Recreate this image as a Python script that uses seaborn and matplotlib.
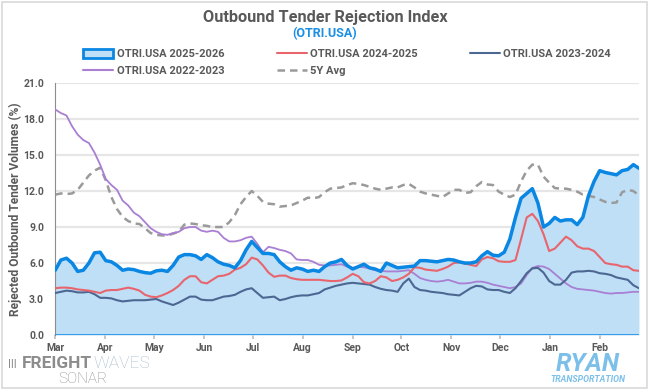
import matplotlib
matplotlib.use("Agg")
import matplotlib.pyplot as plt
from matplotlib.patches import Patch, Rectangle
from matplotlib.lines import Line2D
import matplotlib.dates as mdates
import seaborn as sns
import numpy as np
import pandas as pd

# ~half-weekly readings of the daily OTRI series, Mar 1 -> Feb 25
dates = pd.date_range("2025-03-01", "2026-02-25", periods=105)

otri_2025_26 = [
    5.4, 6.25, 6.4, 6.0, 5.3, 5.4, 6.0, 6.85, 6.9, 6.2,
    6.1, 5.8, 5.4, 5.5, 5.45, 5.3, 5.2, 5.15, 5.35, 5.4,
    5.3, 5.8, 6.5, 6.7, 6.7, 6.6, 6.3, 6.7, 6.45, 6.1,
    5.9, 5.8, 5.6, 6.2, 7.1, 7.8, 7.3, 6.8, 6.8, 6.7,
    6.1, 5.7, 5.4, 5.6, 5.5, 5.3, 5.4, 5.3, 5.7, 6.0,
    6.1, 6.3, 5.8, 5.5, 5.7, 5.9, 5.6, 5.5, 5.3, 6.0,
    5.8, 5.6, 5.65, 5.7, 5.75, 6.2, 6.2, 6.15, 6.1, 6.2,
    6.3, 6.25, 6.1, 6.0, 6.0, 6.1, 6.6, 6.95, 6.65, 6.6,
    6.9, 8.0, 9.8, 11.4, 11.8, 12.2, 11.0, 9.0, 9.3, 9.8,
    9.5, 9.6, 9.6, 9.2, 9.8, 11.6, 12.8, 13.7, 13.55, 13.45,
    13.35, 13.7, 13.8, 14.2, 13.9,
]
otri_2024_25 = [
    3.9, 3.95, 3.95, 3.9, 3.8, 3.75, 3.7, 3.6, 3.5, 3.7,
    3.75, 3.75, 3.85, 3.95, 3.85, 3.7, 3.35, 3.2, 3.15, 3.3,
    3.5, 3.75, 4.1, 4.6, 4.9, 4.9, 4.4, 4.3, 4.6, 4.9,
    4.95, 5.1, 5.45, 5.6, 5.9, 6.45, 6.3, 5.8, 5.2, 4.85,
    4.95, 4.95, 4.75, 4.65, 4.6, 4.6, 4.6, 4.6, 4.55, 4.5,
    4.5, 4.55, 4.8, 5.1, 4.9, 4.4, 4.3, 4.5, 4.9, 4.8,
    4.5, 4.6, 4.8, 5.1, 5.65, 5.6, 5.45, 5.4, 5.35, 5.5,
    5.7, 6.0, 6.05, 5.95, 5.85, 5.75, 6.3, 6.5, 6.4, 6.15,
    6.1, 6.1, 6.25, 8.0, 9.8, 10.1, 9.5, 8.4, 7.0, 7.2,
    7.7, 8.2, 7.9, 7.4, 7.2, 7.2, 7.0, 6.5, 6.0, 5.9,
    5.85, 5.7, 5.7, 5.4, 5.35,
]
otri_2023_24 = [
    3.5, 3.6, 3.7, 3.65, 3.55, 3.55, 3.6, 3.4, 3.1, 3.1,
    3.05, 2.9, 2.8, 2.85, 2.9, 2.9, 2.9, 2.95, 3.0, 2.8,
    2.65, 2.5, 2.7, 2.95, 3.2, 3.2, 2.95, 2.9, 2.9, 3.05,
    3.2, 3.25, 3.35, 3.6, 3.8, 3.9, 3.5, 3.1, 3.15, 3.2,
    2.9, 3.0, 3.15, 3.25, 3.3, 3.3, 3.4, 3.5, 3.8, 3.95,
    4.1, 4.2, 4.3, 4.35, 4.3, 4.25, 4.2, 4.0, 3.85, 3.75,
    3.7, 3.6, 4.3, 4.7, 4.0, 3.75, 3.7, 3.6, 3.55, 3.5,
    3.4, 3.35, 3.3, 3.6, 3.9, 4.1, 4.05, 3.8, 3.75, 3.75,
    3.6, 3.5, 3.9, 4.5, 5.15, 5.55, 5.6, 5.2, 4.5, 4.2,
    4.2, 4.6, 5.2, 5.3, 5.3, 5.35, 5.3, 5.15, 5.1, 5.0,
    4.8, 4.7, 4.6, 4.15, 3.9,
]
otri_2022_23 = [
    18.8, 18.5, 18.3, 17.4, 16.7, 16.25, 16.0, 15.2, 14.2, 13.0,
    12.5, 12.1, 11.2, 10.8, 10.2, 9.9, 9.4, 8.9, 8.6, 8.4,
    8.35, 8.5, 8.6, 8.9, 9.0, 9.0, 8.7, 8.6, 8.7, 8.6,
    8.1, 7.8, 7.8, 7.9, 8.1, 8.2, 7.6, 6.9, 7.35, 7.25,
    7.1, 7.0, 6.8, 6.3, 6.25, 6.25, 6.1, 5.85, 5.8, 5.8,
    5.85, 5.9, 5.7, 5.6, 5.7, 5.65, 5.55, 5.4, 5.35, 5.3,
    5.3, 5.3, 5.35, 5.4, 5.1, 4.75, 4.6, 4.5, 4.45, 4.5,
    4.6, 4.45, 4.3, 4.3, 4.35, 4.45, 4.45, 4.35, 4.2, 4.1,
    4.0, 3.9, 4.0, 4.3, 5.0, 5.6, 5.75, 5.7, 5.5, 5.1,
    4.7, 4.3, 4.0, 3.85, 3.8, 3.75, 3.7, 3.6, 3.5, 3.45,
    3.5, 3.5, 3.55, 3.6, 3.6,
]
avg_5y = [
    11.7, 11.8, 11.75, 11.8, 12.1, 12.7, 13.3, 13.7, 13.95, 12.9,
    11.5, 10.5, 9.85, 9.5, 9.3, 9.25, 8.9, 8.5, 8.35, 8.3,
    8.3, 8.45, 8.6, 9.2, 9.3, 9.25, 9.15, 9.1, 9.0, 9.0,
    9.0, 9.4, 10.0, 10.9, 11.5, 12.0, 11.6, 11.1, 10.95, 10.9,
    10.7, 10.75, 10.8, 11.0, 11.2, 11.45, 11.4, 11.5, 11.9, 12.2,
    12.25, 12.3, 12.5, 12.65, 12.6, 12.5, 12.35, 12.2, 12.1, 12.2,
    12.3, 12.3, 12.5, 12.6, 12.3, 11.95, 11.8, 11.7, 11.6, 11.5,
    11.8, 12.1, 12.1, 11.85, 11.9, 12.4, 12.75, 12.55, 12.5, 11.95,
    11.7, 11.5, 11.7, 12.8, 13.7, 14.2, 14.2, 13.2, 12.7, 12.25,
    12.2, 12.2, 12.1, 11.95, 11.7, 11.6, 11.5, 11.3, 11.1, 11.0,
    11.05, 11.9, 12.1, 12.0, 11.65,
]

labels = ["OTRI.USA 2025-2026", "OTRI.USA 2024-2025", "OTRI.USA 2023-2024",
          "OTRI.USA 2022-2023", "5Y Avg"]

df = pd.DataFrame({
    "date": dates,
    labels[0]: otri_2025_26,
    labels[1]: otri_2024_25,
    labels[2]: otri_2023_24,
    labels[3]: otri_2022_23,
    labels[4]: avg_5y,
})

BLUE = "#0A86E3"
FILL = "#BEDFF6"
RED = "#E8656E"
NAVY = "#4C6792"
PURPLE = "#A87FD2"
GREY = "#9A9A9A"
TXT = "#595959"

sns.set_theme(style="white")
plt.rcParams["font.family"] = ["Roboto", "DejaVu Sans"]

fig, ax = plt.subplots(figsize=(6.5, 3.9), dpi=100)
fig.subplots_adjust(left=0.085, right=0.983, bottom=0.141, top=0.787)

ax.fill_between(df["date"], df[labels[0]], 0, color=FILL, lw=0, zorder=1)
for y in np.arange(3, 22, 3):
    ax.axhline(y, color="#E6E6E6", lw=1.6, zorder=0.5)

sns.lineplot(data=df, x="date", y=labels[4], ax=ax, color=GREY, lw=1.8,
             linestyle=(0, (3, 2)), zorder=2)
sns.lineplot(data=df, x="date", y=labels[3], ax=ax, color=PURPLE, lw=1.3, zorder=3)
sns.lineplot(data=df, x="date", y=labels[2], ax=ax, color=NAVY, lw=1.5, zorder=3)
sns.lineplot(data=df, x="date", y=labels[1], ax=ax, color=RED, lw=1.5, zorder=4)
sns.lineplot(data=df, x="date", y=labels[0], ax=ax, color=BLUE, lw=2.5, zorder=5)
ax.axhline(0, color=BLUE, lw=1.8, zorder=5)

ax.set_xlim(dates[0], dates[-1])
ax.set_ylim(0, 21)
ax.set_yticks(np.arange(0, 22, 3))
ax.set_yticklabels([f"{v:.1f}" for v in np.arange(0, 22, 3)])
ax.xaxis.set_major_locator(mdates.MonthLocator())
ax.xaxis.set_major_formatter(mdates.DateFormatter("%b"))
ax.tick_params(axis="x", length=3, color="#BFBFBF", bottom=True, pad=3)
ax.tick_params(axis="y", length=0, pad=8)
for t in ax.get_xticklabels() + ax.get_yticklabels():
    t.set_fontsize(7.5)
    t.set_fontweight("bold")
    t.set_color(TXT)

ax.set_xlabel("")
ax.set_ylabel("Rejected Outbound Tender Volumes (%)", fontsize=8.6,
              fontweight="bold", color=TXT, labelpad=1)
for s in ["top", "right"]:
    ax.spines[s].set_visible(False)
ax.spines["left"].set_color("#8C8C8C")
ax.spines["left"].set_linewidth(0.8)
ax.spines["bottom"].set_visible(False)

fig.text(0.5, 0.956, "Outbound Tender Rejection Index", ha="center", va="center",
         fontsize=11.7, fontweight="bold", color=TXT)
fig.text(0.5, 0.913, "(OTRI.USA)", ha="center", va="center",
         fontsize=9, fontweight="bold", color="#1A8FE3")

handles = [
    Patch(facecolor=FILL, edgecolor=BLUE, linewidth=2),
    Line2D([], [], color=RED, lw=1.5),
    Line2D([], [], color=NAVY, lw=1.5),
    Line2D([], [], color=PURPLE, lw=1.5),
    Line2D([], [], color=GREY, lw=1.8, linestyle=(0, (3, 2))),
]
order = [0, 3, 1, 4, 2]
leg = fig.legend([handles[i] for i in order], [labels[i] for i in order],
                 loc="center", bbox_to_anchor=(0.534, 0.84), ncol=3, frameon=False,
                 fontsize=8, handlelength=2.7, handleheight=0.9, columnspacing=4.7,
                 handletextpad=0.3, labelspacing=0.55)
for t in leg.get_texts():
    t.set_fontweight("bold")
    t.set_color(TXT)

# logos as text
fig.text(0.013, 0.067, "|||", fontsize=8, fontweight="bold", color="#8C8C8C", va="center")
fw = fig.text(0.034, 0.067, "FREIGHT", fontsize=12.5, fontweight="bold",
              color="#8C8C8C", va="center")
fig.canvas.draw()
bb = fw.get_window_extent().transformed(fig.transFigure.inverted())
fig.text(bb.x1 + 0.002, 0.067, "WAVES", fontsize=12.5, fontweight="light",
         color="#A9BCCF", va="center")
fig.text(0.128, 0.027, "SONAR", fontsize=11, fontweight="light", color="#8C8C8C",
         va="center", ha="center")
fig.text(0.905, 0.067, "RYAN", fontsize=18, fontweight="bold", style="italic",
         color="#7CC0EA", va="center", ha="center")
fig.text(0.905, 0.027, "TRANSPORTATION", fontsize=6.3, fontweight="bold", style="italic",
         color="#7CC0EA", va="center", ha="center")

fig.patches.append(Rectangle((0.003, 0.005), 0.992, 0.99, transform=fig.transFigure,
                             fill=False, edgecolor="#D9D9D9", lw=1.2))

fig.savefig("out.png", dpi=100)
